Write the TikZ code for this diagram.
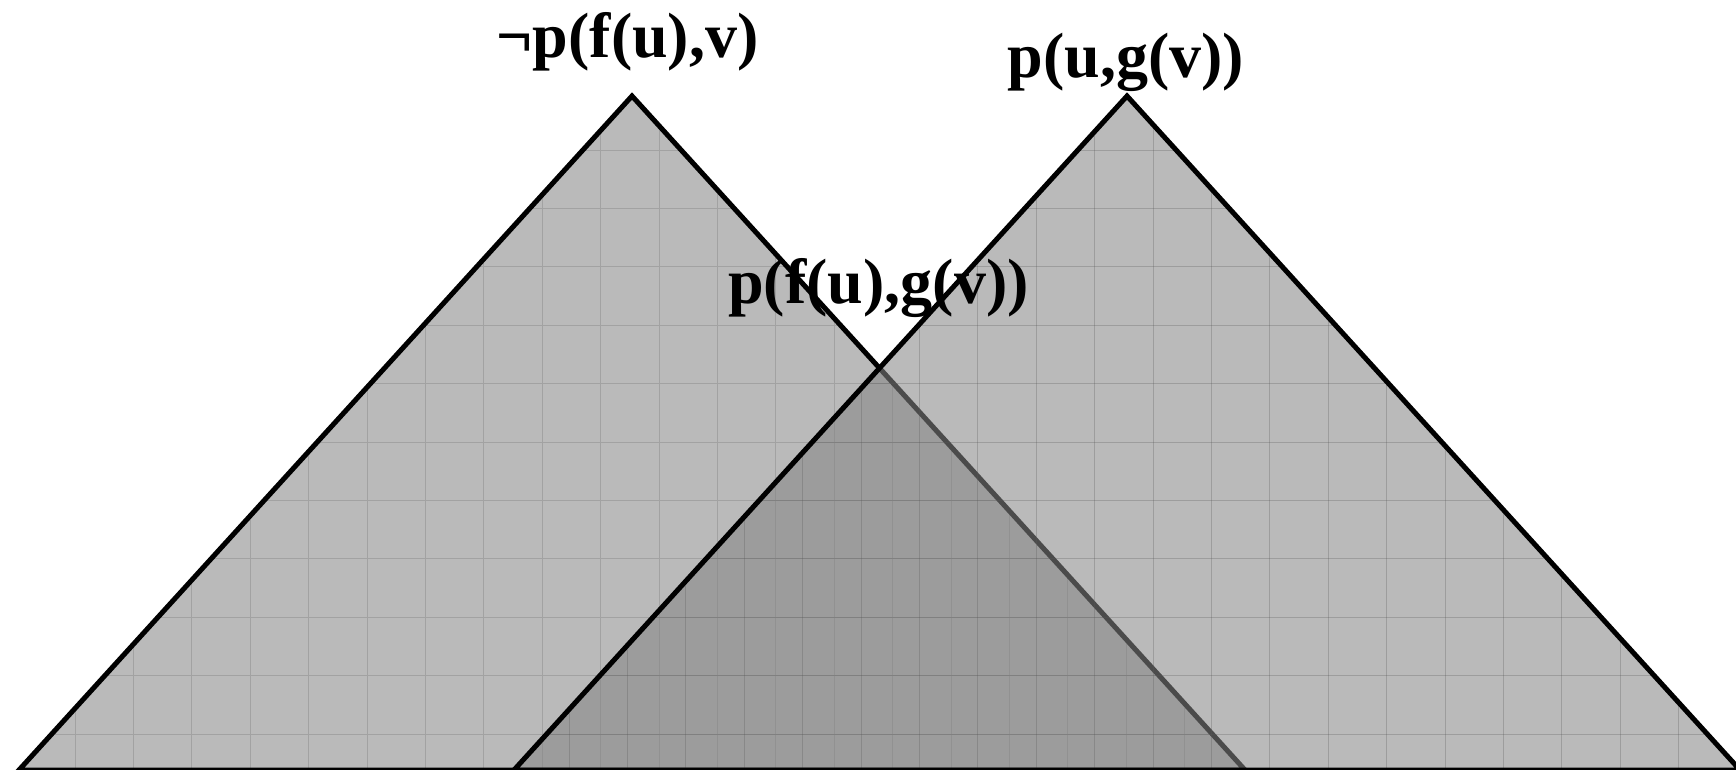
\documentclass[tikz,border=0pt]{standalone}
\usepackage{fontspec}
\setmainfont{Liberation Serif}
\begin{document}
\begin{tikzpicture}[x=1pt,y=-1pt,
  tri/.style={draw=black,line width=5pt,line join=miter},
  lightfill/.style={fill={rgb,255:red,186;green,186;blue,186}},
  rightfill/.style={fill={rgb,255:red,133;green,133;blue,133},fill opacity=0.565},
  gridline/.style={draw={rgb,255:red,162;green,162;blue,162},line width=1pt},
  lbl/.style={font=\fontsize{64}{64}\selectfont\bfseries,anchor=base,inner sep=0pt}]
\useasboundingbox (0,0) rectangle (1736,769);
\coordinate (LA) at (632,96);
\coordinate (LL) at (19,770);
\coordinate (LR) at (1245,770);
\coordinate (RA) at (1127,96);
\coordinate (RL) at (514,770);
\coordinate (RR) at (1740,770);
% left triangle
\fill[lightfill] (LA)--(LL)--(LR)--cycle;
\begin{scope}
  \clip (LA)--(LL)--(LR)--cycle;
  \foreach \i in {0,...,30} \draw[gridline] ({16.6+58.4*\i},0) -- ++(0,800);
  \foreach \k in {0,...,13} \draw[gridline] (0,{33.2+58.4*\k}) -- ++(1800,0);
\end{scope}
\draw[tri] (LA)--(LL)--(LR)--cycle;
% right triangle
\fill[rightfill] (RA)--(RL)--(RR)--cycle;
\begin{scope}[opacity=0.3]
  \clip (RA)--(RL)--(RR)--cycle;
  \foreach \i in {0,...,30} \draw[gridline,draw={rgb,255:red,90;green,90;blue,90}] ({43.4+58.4*\i},0) -- ++(0,800);
  \foreach \k in {0,...,13} \draw[gridline,draw={rgb,255:red,90;green,90;blue,90}] (0,{33.2+58.4*\k}) -- ++(1800,0);
\end{scope}
\draw[tri] (RA)--(RL)--(RR)--cycle;
% labels
\node[lbl] (l1) at (627.5,57) {¬p(f(u),v)};
\node[lbl] (l2) at (1126,77) {p(u,g(v))};
\node[lbl] (l3) at (878.5,303) {p(f(u),g(v))};
\end{tikzpicture}
\end{document}
